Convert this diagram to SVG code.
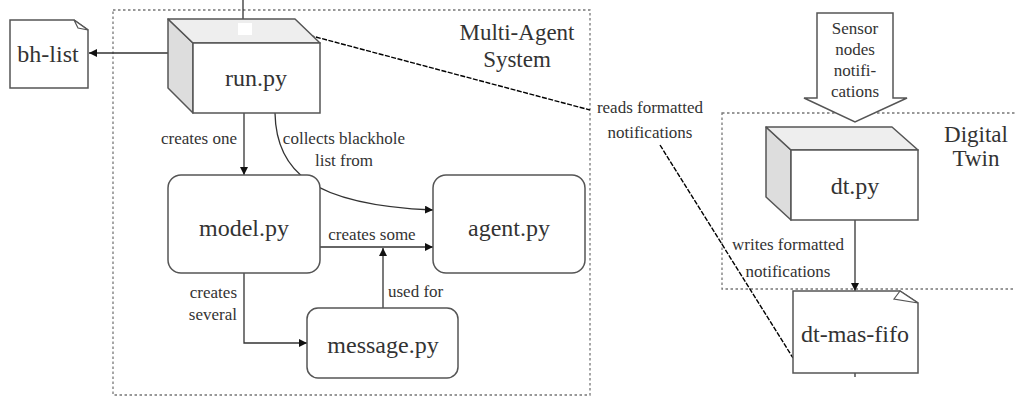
<svg xmlns="http://www.w3.org/2000/svg" width="1015" height="397" viewBox="0 0 1015 397" font-family="'Liberation Serif', 'DejaVu Serif', 'Times New Roman', serif">
<style>
text{font-family:'Liberation Serif','DejaVu Serif','Times New Roman',serif;fill:#333}
.node{font-size:24px;text-anchor:middle}
.lbl{font-size:17px}
.title{font-size:23px;text-anchor:middle}
.box{fill:#fff;stroke:#555;stroke-width:1.5}
.side{fill:#ddd;stroke:#555;stroke-width:1.5;stroke-linejoin:round}
.top{fill:#eee;stroke:#555;stroke-width:1.5;stroke-linejoin:round}
.edge{fill:none;stroke:#333;stroke-width:1.3}
.dash{fill:none;stroke:#000;stroke-width:1.4;stroke-dasharray:5,1.5}
.frame{fill:none;stroke:#777;stroke-width:1.3;stroke-dasharray:2.5,2.5}
</style>
<defs>
<marker id="ah" viewBox="0 0 10 10" refX="10" refY="5" markerWidth="8" markerHeight="8" markerUnits="userSpaceOnUse" orient="auto">
<path d="M0,0 L10,5 L0,10 Z" fill="#111"/>
</marker>
</defs>
<rect width="1015" height="397" fill="#fff"/>

<g id="mas-frame">
<rect class="frame" x="113" y="10" width="477" height="385"/>
<text class="title" x="517" y="40">Multi-Agent</text>
<text class="title" x="517" y="67">System</text>
</g>
<g id="dt-frame">
<rect class="frame" x="722" y="113" width="320" height="176"/>
<text class="title" x="976" y="142">Digital</text>
<text class="title" x="976" y="166">Twin</text>
</g>

<g id="connectors">
<line class="edge" x1="243" y1="0" x2="243" y2="19"/>
<line class="edge" x1="168" y1="53" x2="89" y2="53" marker-end="url(#ah)"/>
<line class="edge" x1="244" y1="113" x2="244" y2="175" marker-end="url(#ah)"/>
<path class="edge" d="M275,113 C276,170 310,205 433,210" marker-end="url(#ah)"/>
<line class="edge" x1="320" y1="247" x2="433" y2="247" marker-end="url(#ah)"/>
<line class="edge" x1="383" y1="308" x2="383" y2="248" marker-end="url(#ah)"/>
<path class="edge" d="M244,273 L244,343 L307,343" marker-end="url(#ah)"/>
<line class="edge" x1="855" y1="220" x2="855" y2="291" marker-end="url(#ah)"/>
<line class="edge" x1="855" y1="373" x2="855" y2="377"/>
<path class="dash" d="M297,32 L590,110"/>
<path class="dash" d="M660,145 L793,358"/>
<text class="lbl" x="237" y="144" text-anchor="end">creates one</text>
<text class="lbl" x="344" y="144" text-anchor="middle">collects blackhole</text>
<text class="lbl" x="344" y="166" text-anchor="middle">list from</text>
<text class="lbl" x="372" y="240" text-anchor="middle">creates some</text>
<text class="lbl" x="388" y="297">used for</text>
<text class="lbl" x="237" y="298" text-anchor="end">creates</text>
<text class="lbl" x="237" y="320" text-anchor="end">several</text>
<text class="lbl" x="650" y="113" text-anchor="middle">reads formatted</text>
<text class="lbl" x="650" y="138" text-anchor="middle">notifications</text>
<text class="lbl" x="788" y="250" text-anchor="middle">writes formatted</text>
<text class="lbl" x="788" y="277" text-anchor="middle">notifications</text>
</g>

<g id="bh-list">
<path class="box" d="M10,20 L74,20 L88,30 L88,88 L10,88 Z"/>
<path d="M74,20 L78,28 L88,30 Z" fill="#fff" stroke="#555" stroke-width="1.2"/>
<text class="node" x="48" y="62">bh-list</text>
</g>

<g id="run-py">
<path class="side" d="M168,19 L193,43 L193,113 L168,88 Z"/>
<path class="top" d="M168,19 L295,19 L320,43 L193,43 Z"/>
<rect x="238" y="23" width="14" height="12" fill="#fff"/>
<rect class="box" x="193" y="43" width="127" height="70"/>
<text class="node" x="256" y="86">run.py</text>
</g>

<g id="model-py">
<rect class="box" x="168" y="175" width="152" height="98" rx="13"/>
<text class="node" x="244" y="236">model.py</text>
</g>

<g id="agent-py">
<rect class="box" x="433" y="175" width="152" height="98" rx="13"/>
<text class="node" x="509" y="236">agent.py</text>
</g>

<g id="message-py">
<rect class="box" x="307" y="308" width="151" height="70" rx="11"/>
<text class="node" x="383" y="353">message.py</text>
</g>

<g id="sensor">
<path d="M817,13 L893,13 L893,98 L907,98 L855,122 L804,98 L817,98 Z" fill="#fff" stroke="#555" stroke-width="1.5" stroke-linejoin="miter"/>
<text class="lbl" x="855" y="34" text-anchor="middle">Sensor</text>
<text class="lbl" x="855" y="55" text-anchor="middle">nodes</text>
<text class="lbl" x="855" y="76" text-anchor="middle">notifi-</text>
<text class="lbl" x="855" y="97" text-anchor="middle">cations</text>
</g>

<g id="dt-py">
<path class="side" d="M766,127 L791,150 L791,220 L766,197 Z"/>
<path class="top" d="M766,127 L892,127 L918,150 L791,150 Z"/>
<rect class="box" x="791" y="150" width="127" height="70"/>
<text class="node" x="855" y="194">dt.py</text>
</g>

<g id="dt-mas-fifo">
<path class="box" d="M793,291 L900,291 L918,303 L918,373 L793,373 Z"/>
<path d="M900,291 L894,299 L918,303 Z" fill="#fff" stroke="#555" stroke-width="1.2"/>
<text class="node" x="855" y="342">dt-mas-fifo</text>
</g>
</svg>
